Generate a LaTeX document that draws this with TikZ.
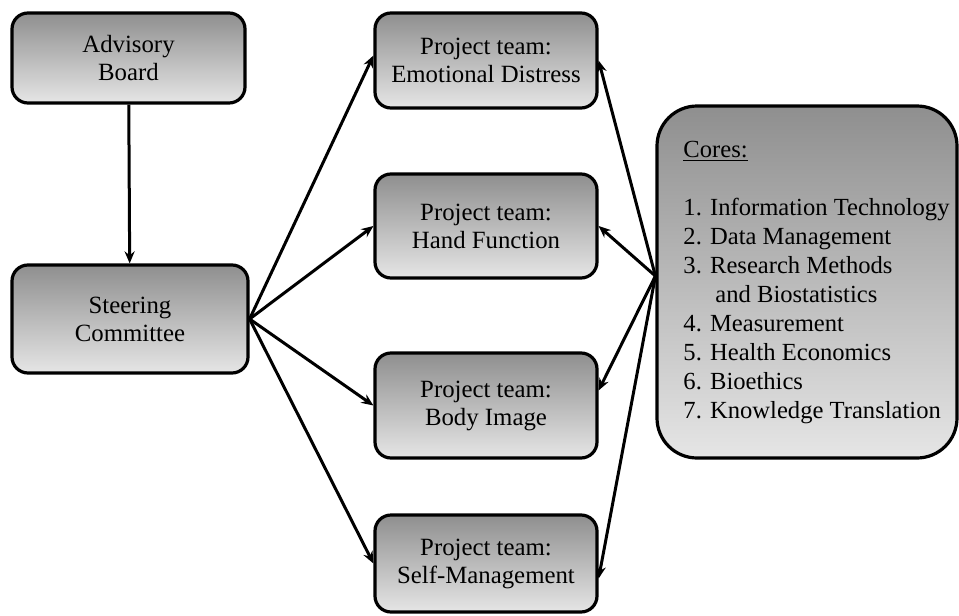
\documentclass[tikz,border=0pt]{standalone}
\usepackage{fontspec}
\setmainfont{Liberation Serif}
\usetikzlibrary{arrows.meta, calc}

\begin{document}
\begin{tikzpicture}[x=0.5pt, y=-0.5pt, >={Stealth[length=6pt, width=5pt]}]
    \tikzset{
        unit/.style={draw, line width=1.6pt, rounded corners=8pt, top color=black!44, bottom color=black!10,
            align=center, inner sep=0pt, font=\fontsize{12.4}{14}\selectfont},
        link/.style={->, line width=1.5pt}
    }
    \useasboundingbox (0,0) rectangle (959,616);

    \node (adv) at (128.5,58) [unit, minimum width=116.5pt, minimum height=45pt] {Advisory\\Board};
    \node (steer) at (130,319) [unit, minimum width=118pt, minimum height=54pt] {Steering\\Committee};

    \node (emo) at (486,60.5) [unit, minimum width=111pt, minimum height=47.5pt] {Project team:\\Emotional Distress};
    \node (hand) at (486,226) [unit, minimum width=111pt, minimum height=52pt] {Project team:\\Hand Function};
    \node (body) at (486,405.5) [unit, minimum width=111pt, minimum height=52.5pt] {Project team:\\Body Image};
    \node (self) at (486,563.5) [unit, minimum width=111pt, minimum height=48.5pt] {Project team:\\Self-Management};

    \node (cores) at (807,282) [unit, rounded corners=20pt, minimum width=150pt, minimum height=176pt, font=\fontsize{12.3}{14.5}\selectfont]
        {\begin{tabular}{@{\hspace{9.5pt}}l@{}}
            \underline{Cores:}\\[14.5pt]
            1. Information Technology\\
            2. Data Management\\
            3. Research Methods\\
            \hspace*{16pt}and Biostatistics\\
            4. Measurement\\
            5. Health Economics\\
            6. Bioethics\\
            7. Knowledge Translation
        \end{tabular}};

    \coordinate (hub) at ($(cores.west)+(0,-6)$);

    \draw [link] (adv) -- (steer);

    \draw [link] (steer.east) -- ($(emo.west)+(0,-5)$);
    \draw [link] (steer.east) -- (hand.west);
    \draw [link] (steer.east) -- (body.west);
    \draw [link] (steer.east) -- (self.west);

    \draw [link] (hub) -- (emo.east);
    \draw [link] (hub) -- (hand.east);
    \draw [link] (hub) -- ($(body.east)+(0,-15)$);
    \draw [link] (hub) -- ($(self.east)+(0,15)$);
\end{tikzpicture}
\end{document}
